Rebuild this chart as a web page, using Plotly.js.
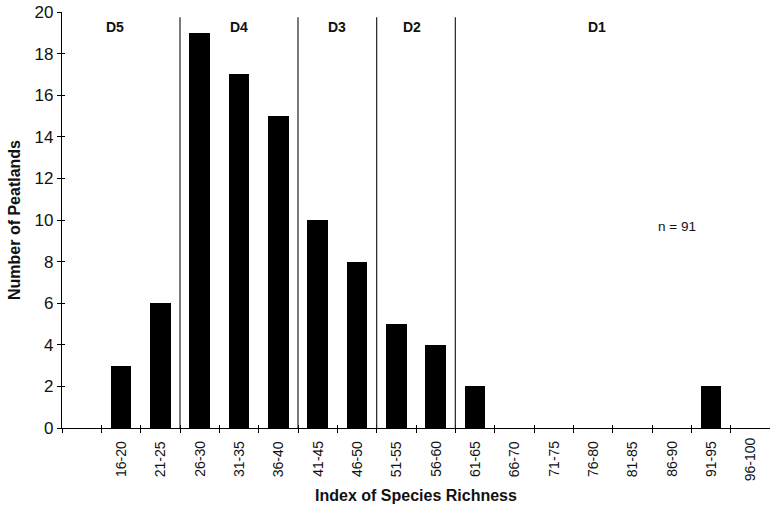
<!DOCTYPE html>
<html>
<head>
<meta charset="utf-8">
<script src="https://cdn.plot.ly/plotly-3.0.1.min.js"></script>
<style>html,body{margin:0;padding:0;background:#fff;}#chart{width:770px;height:509px;}</style>
</head>
<body>
<div id="chart"></div>
<script>
// Categories (first slot is an empty class on the axis)
const categories = ["", "16-20", "21-25", "26-30", "31-35", "36-40", "41-45", "46-50", "51-55", "56-60",
  "61-65", "66-70", "71-75", "76-80", "81-85", "86-90", "91-95", "96-100"];
const counts = [null, 3, 6, 19, 17, 15, 10, 8, 5, 4, 2, 0, 0, 0, 0, 0, 2, 0];

// Group (D-class) labels and the category index where each group ends
const groupNames = ["D5", "D4", "D3", "D2", "D1"];
const groupLabelX = [0.85, 4.0, 6.5, 8.4, 13.1];
const groupEndIdx = [2, 5, 7, 9];   // dividers after these categories
const sampleNote = "n = 91";

const xs = categories.map((c, i) => i);
const boundaries = [];
for (let i = 0; i <= categories.length; i++) boundaries.push(i - 0.5);

const font = "Arial, 'Liberation Sans', Helvetica, sans-serif";

const traces = [
  {
    type: "bar", x: xs, y: counts, width: 0.52,
    marker: {color: "#000", line: {width: 0}}, hoverinfo: "skip", showlegend: false
  },
  {type: "scatter", x: [0], y: [0], xaxis: "x2", yaxis: "y2", mode: "markers",
   marker: {opacity: 0}, showlegend: false, hoverinfo: "skip"},
  {type: "scatter", x: [0], y: [0], xaxis: "x3", yaxis: "y", mode: "markers",
   marker: {opacity: 0}, showlegend: false, hoverinfo: "skip"}
];

const shapes = groupEndIdx.map(i => ({
  type: "line", xref: "x", yref: "y", x0: i + 0.5, x1: i + 0.5, y0: 0, y1: 19.75,
  line: {color: "#222", width: 1.2}
}));

const annotations = groupNames.map((g, k) => ({
  text: "<b>" + g + "</b>", x: groupLabelX[k], y: 19.3, xref: "x", yref: "y",
  showarrow: false, font: {family: font, size: 14, color: "#111"}
}));
annotations.push({text: sampleNote, x: 15.14, y: 9.7, xref: "x", yref: "y",
  showarrow: false, font: {family: font, size: 13.5, color: "#111"}});
// category labels, rotated and centred below the axis
categories.forEach((c, i) => {
  if (!c) return;
  annotations.push({text: c, x: i, y: 0, xref: "x", yref: "y", yshift: -31,
    textangle: -90, showarrow: false, xanchor: "center", yanchor: "middle",
    font: {family: font, size: 14, color: "#111"}});
});

const layout = {
  width: 770, height: 509,
  margin: {l: 62, r: 0, t: 12, b: 81},
  paper_bgcolor: "#fff", plot_bgcolor: "#fff",
  font: {family: font, color: "#111"},
  xaxis: {
    range: [-0.5, categories.length - 0.5],
    showticklabels: false, ticks: "", showgrid: false, zeroline: false,
    showline: true, linecolor: "#000", linewidth: 1.2,
    title: {text: "<b>Index of Species Richness</b>", font: {family: font, size: 16, color: "#111"}, standoff: 61},
    fixedrange: true
  },
  xaxis2: {
    overlaying: "x", matches: "x", anchor: "y",
    tickmode: "array", tickvals: boundaries, showticklabels: false,
    ticks: "outside", ticklen: 4, tickcolor: "#000", tickwidth: 1,
    showgrid: false, zeroline: false, showline: false
  },
  xaxis3: {
    overlaying: "x", matches: "x", anchor: "y",
    tickmode: "array", tickvals: boundaries, showticklabels: false,
    ticks: "inside", ticklen: 3, tickcolor: "#000", tickwidth: 1,
    showgrid: false, zeroline: false, showline: false
  },
  yaxis: {
    range: [0, 20], dtick: 2, ticks: "outside", ticklen: 4, tickcolor: "#000", tickwidth: 1,
    showgrid: false, zeroline: false, showline: true, linecolor: "#000", linewidth: 1.2,
    tickfont: {family: font, size: 17, color: "#111"},
    title: {text: "<b>Number of Peatlands</b>", font: {family: font, size: 16, color: "#111"}, standoff: 9},
    fixedrange: true
  },
  yaxis2: {
    overlaying: "y", matches: "y", anchor: "x", side: "left",
    range: [0, 20], dtick: 2, ticks: "inside", ticklen: 3, tickcolor: "#000", tickwidth: 1,
    showticklabels: false, showgrid: false, zeroline: false, showline: false
  },
  shapes: shapes,
  annotations: annotations,
  bargap: 0
};

Plotly.newPlot("chart", traces, layout, {displayModeBar: false, staticPlot: true});
</script>
</body>
</html>
